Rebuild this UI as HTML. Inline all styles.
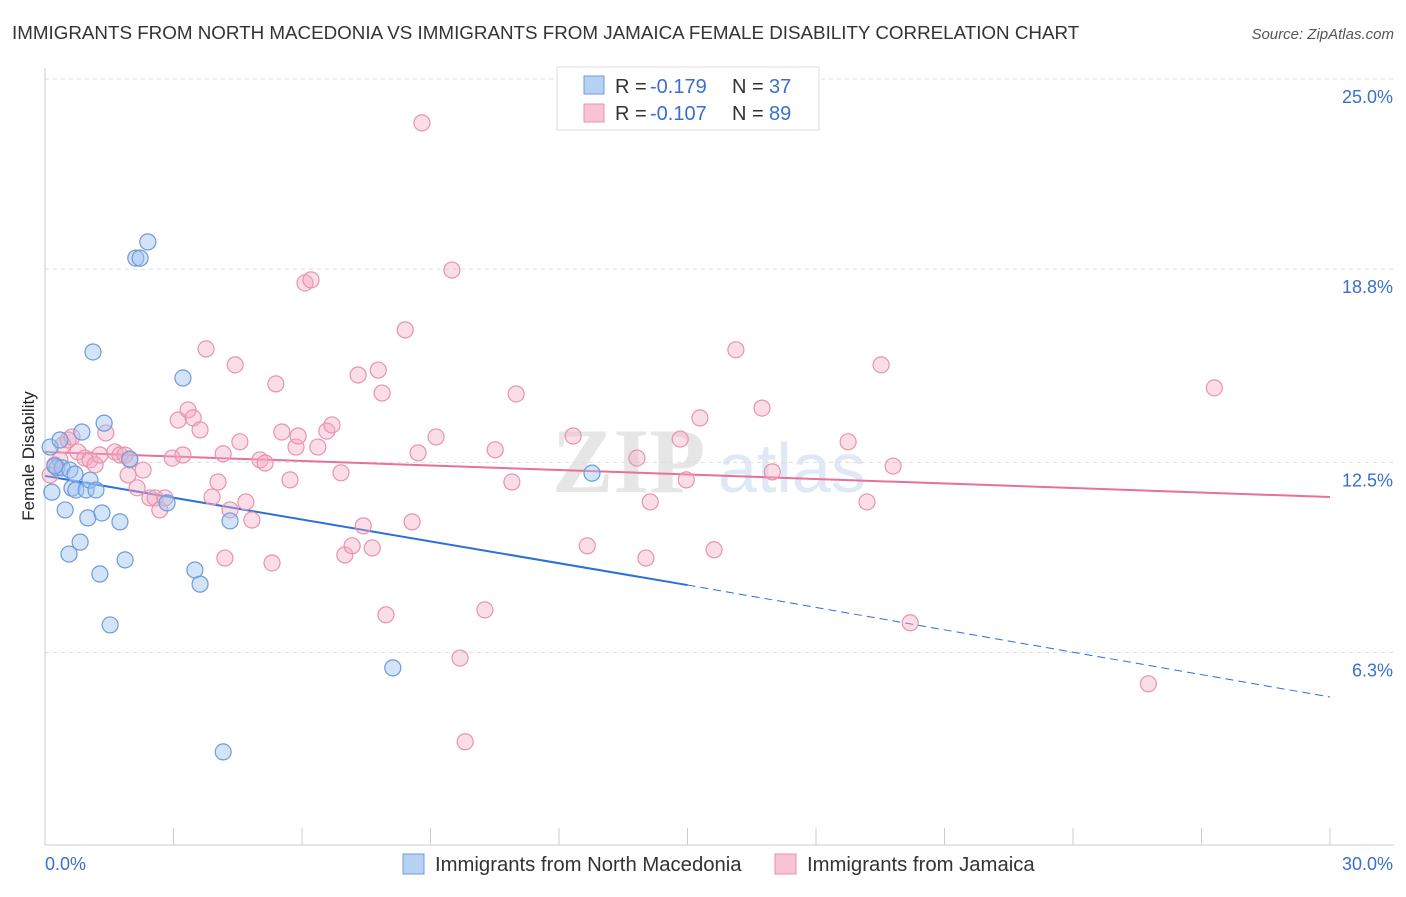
<!DOCTYPE html>
<html><head><meta charset="utf-8"><style>
body{margin:0;background:#fff;font-family:"Liberation Sans",sans-serif;}
</style></head><body>
<svg id="chart" width="1406" height="892" xmlns="http://www.w3.org/2000/svg">
<text x="12" y="39" font-size="18.8" fill="#333">IMMIGRANTS FROM NORTH MACEDONIA VS IMMIGRANTS FROM JAMAICA FEMALE DISABILITY CORRELATION CHART</text>
<text x="1394" y="39" font-size="15" fill="#555" font-style="italic" text-anchor="end">Source: ZipAtlas.com</text>
<text transform="translate(34,456) rotate(-90)" font-size="17" fill="#222" text-anchor="middle">Female Disability</text>
<g><text x="552" y="492" font-size="92" fill="#e6e6e6" font-family="Liberation Serif,serif" font-weight="bold">ZIP</text><text x="718" y="492" font-size="70" fill="#dfe8f5">atlas</text></g>
<g id="grid"></g><g id="axes"></g><g id="lines"></g><g id="pts"></g>
<g>
<rect x="557" y="67" width="262" height="63" fill="#fff" stroke="#ddd"/>
<rect x="584" y="76" width="20" height="18" fill="#b7d1f3" stroke="#6d9bd9"/>
<rect x="584" y="104" width="20" height="18" fill="#f8c3d3" stroke="#e893ae"/>
<text x="615" y="93" font-size="20" fill="#333">R =</text><text x="650" y="93" font-size="20" fill="#3a6fd0">-0.179</text>
<text x="732" y="93" font-size="20" fill="#333">N =</text><text x="769" y="93" font-size="20" fill="#3a6fd0">37</text>
<text x="615" y="120" font-size="20" fill="#333">R =</text><text x="650" y="120" font-size="20" fill="#3a6fd0">-0.107</text>
<text x="732" y="120" font-size="20" fill="#333">N =</text><text x="769" y="120" font-size="20" fill="#3a6fd0">89</text>
</g>
<g>
<rect x="403" y="854" width="21" height="20" fill="#b7d1f3" stroke="#6d9bd9"/>
<text x="435" y="871" font-size="20.3" fill="#333">Immigrants from North Macedonia</text>
<rect x="775" y="854" width="21" height="20" fill="#f8c3d3" stroke="#e893ae"/>
<text x="807" y="871" font-size="20.3" fill="#333">Immigrants from Jamaica</text>
</g>
</svg>
<script>
const yTicks=[25.0,18.8,12.5,6.3];
const yTickLabels=["25.0%","18.8%","12.5%","6.3%"];
const xTickLabels=["0.0%","30.0%"];
const blueX=[0.12,0.16,0.28,0.35,0.40,0.47,0.56,0.58,0.63,0.72,0.82,0.86,0.96,1.00,1.05,1.12,1.19,1.28,1.33,1.38,1.52,1.75,1.87,1.98,2.12,2.22,2.40,2.85,3.22,3.50,3.62,4.32,4.16,8.12,12.77,0.70,0.23];
const blueY=[13.0,11.53,12.32,13.23,12.32,10.95,9.51,12.25,11.66,11.60,9.90,13.49,11.60,10.69,11.92,16.10,11.60,8.86,10.85,13.78,7.20,10.56,9.32,12.61,19.16,19.16,19.69,11.18,15.25,8.99,8.53,10.59,3.06,5.80,12.15,12.12,12.38];
const pinkX=[0.12,0.23,0.35,0.42,0.54,0.63,0.77,0.93,1.05,1.17,1.28,1.42,1.63,1.75,1.87,1.94,1.98,2.15,2.29,2.45,2.57,2.68,2.80,2.97,3.11,3.22,3.34,3.46,3.62,3.76,3.90,4.04,4.16,4.20,4.32,4.44,4.55,4.69,4.83,5.02,5.14,5.30,5.39,5.53,5.72,5.86,5.91,6.07,6.21,6.37,6.58,6.70,6.91,7.00,7.17,7.31,7.43,7.64,7.78,7.87,7.96,8.41,8.57,8.71,8.80,9.13,9.50,9.69,9.81,10.27,10.51,10.90,11.00,12.33,12.66,13.82,14.03,14.13,14.83,14.97,15.29,15.62,16.13,16.74,16.98,18.75,19.19,19.52,19.80,20.20,25.76,27.30];
const pinkY=[12.09,12.42,12.58,13.07,13.23,13.33,12.84,12.64,12.58,12.42,12.74,13.46,12.84,12.74,12.74,12.09,12.58,11.67,12.25,11.34,11.34,10.95,11.34,12.64,13.88,12.74,14.21,13.95,13.56,16.20,11.37,11.86,12.78,9.38,10.95,15.68,13.17,11.21,10.62,12.58,12.48,9.22,15.06,13.49,11.93,13.00,13.36,18.35,18.45,13.00,13.52,13.72,12.16,9.48,9.78,15.35,10.43,9.71,15.51,14.76,7.53,16.82,10.56,12.81,23.57,13.33,18.77,6.12,3.39,7.69,12.91,11.86,14.73,13.36,9.78,12.64,9.38,11.21,13.26,11.93,13.95,9.65,16.17,14.27,12.19,13.17,11.21,15.68,12.38,7.27,5.28,14.93];
const blueTrend=[12.06,8.50,4.85];
const pinkTrend=[12.84,11.37];
const X0=45,X1=1330,Y25=79,PXPER=30.67;
const sx=v=>X0+(X1-X0)*v/30;
const sy=v=>Y25+(25-v)*PXPER;
const NS="http://www.w3.org/2000/svg";
function mk(tag,attrs,parent){const e=document.createElementNS(NS,tag);for(const k in attrs)e.setAttribute(k,attrs[k]);document.getElementById(parent).appendChild(e);return e;}
yTicks.forEach((t,i)=>{
 const g=mk('line',{x1:X0,x2:1394,y1:sy(t),y2:sy(t),stroke:'#ddd','stroke-dasharray':'4,4'},'grid');
 
 
 const l=mk('text',{x:1393,y:sy(t)+24,'font-size':18,fill:'#3a6fd0','text-anchor':'end'},'axes');
 l.textContent=yTickLabels[i];
 
 
});
let a=mk('line',{x1:X0,x2:X0,y1:68,y2:845,stroke:'#ccc'},'axes');


a=mk('line',{x1:X0,x2:1394,y1:845,y2:845,stroke:'#ccc'},'axes');


for(let i=0;i<=10;i++){const t=mk('line',{x1:sx(i*3),x2:sx(i*3),y1:828,y2:845,stroke:'#ccc'},'axes');
 
 }
let xl=mk('text',{x:45,y:870,'font-size':18,fill:'#3a6fd0'},'axes');xl.textContent=xTickLabels[0];


xl=mk('text',{x:1393,y:870,'font-size':18,fill:'#3a6fd0','text-anchor':'end'},'axes');xl.textContent=xTickLabels[1];


pinkX.forEach((v,i)=>{const c=mk('circle',{cx:sx(v),cy:sy(pinkY[i]),r:8,fill:'rgba(244,170,195,0.4)',stroke:'#e893ae','stroke-width':1.2},'pts');
 
 });
blueX.forEach((v,i)=>{const c=mk('circle',{cx:sx(v),cy:sy(blueY[i]),r:8,fill:'rgba(160,195,240,0.45)',stroke:'#6d9bd9','stroke-width':1.2},'pts');
 
 });
let tl=mk('line',{x1:sx(0),y1:sy(blueTrend[0]),x2:sx(15),y2:sy(blueTrend[1]),stroke:'#2a6fdb','stroke-width':2},'lines');


tl=mk('line',{x1:sx(15),y1:sy(blueTrend[1]),x2:sx(30),y2:sy(blueTrend[2]),stroke:'#2a6fdb','stroke-width':1,'stroke-dasharray':'8,5'},'lines');


tl=mk('line',{x1:sx(0),y1:sy(pinkTrend[0]),x2:sx(30),y2:sy(pinkTrend[1]),stroke:'#e8709a','stroke-width':2},'lines');


</script>
</body></html>
